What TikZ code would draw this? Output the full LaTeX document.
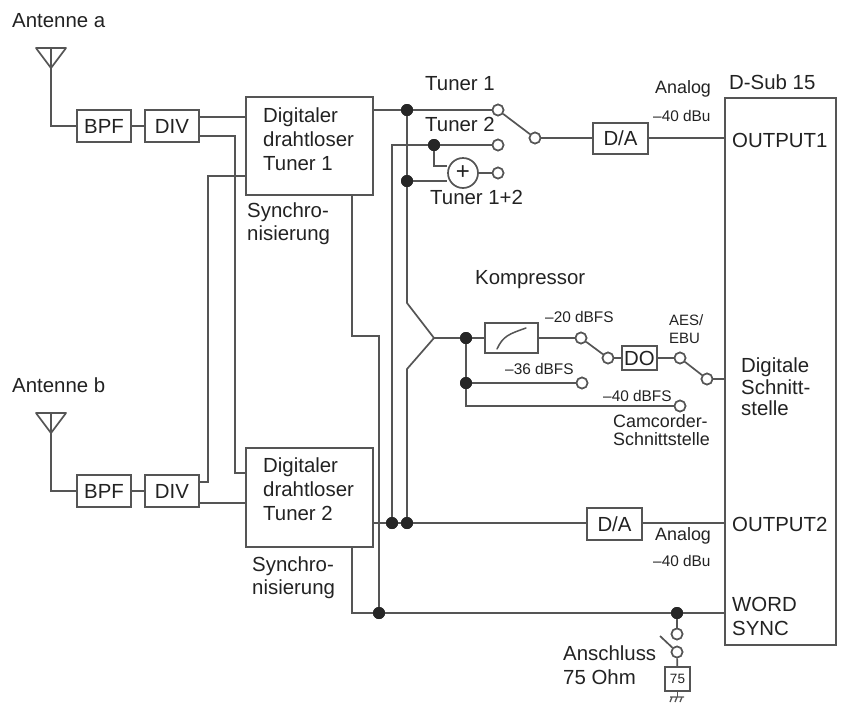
\documentclass[tikz,border=0pt]{standalone}
\usepackage{fontspec}
\setmainfont{Liberation Sans}
\definecolor{ln}{HTML}{555555}
\definecolor{tx}{HTML}{222222}
\newcommand{\fL}{\fontsize{20.4}{24}\selectfont}
\newcommand{\fA}{\fontsize{17.9}{24}\selectfont}
\newcommand{\fM}{\fontsize{15.4}{19.5}\selectfont}
\tikzset{
  x=1pt,y=-1pt,
  wire/.style={draw=ln,line width=1.7pt},
  box/.style={draw=ln,line width=1.9pt,fill=white,inner sep=0pt,text=tx,font=\fL},
  lab/.style={anchor=west,inner sep=0pt,text=tx,font=\fL,align=left},
  labm/.style={lab,font=\fM},
  dot/.style={circle,fill=black!85,draw=none,minimum size=12pt,inner sep=0pt},
  term/.style={circle,draw=ln,line width=1.6pt,fill=white,minimum size=11pt,inner sep=0pt},
}
\begin{document}
\begin{tikzpicture}
\useasboundingbox (0,0) rectangle (846,710);
% boxes
\node[box,minimum width=54pt,minimum height=32pt] (bpfa) at (104,126) {BPF};
\node[box,minimum width=54pt,minimum height=32pt] (diva) at (172,126) {DIV};
\node[box,minimum width=54pt,minimum height=32pt] (bpfb) at (104,491) {BPF};
\node[box,minimum width=54pt,minimum height=32pt] (divb) at (172,491) {DIV};
\node[box,minimum width=127pt,minimum height=98pt] (tun1) at (309.5,146) {};
\node[box,minimum width=127pt,minimum height=99pt] (tun2) at (309.5,497.5) {};
\node[box,minimum width=55pt,minimum height=31pt] (da1) at (620.5,138.5) {D/A};
\node[box,minimum width=55pt,minimum height=32pt] (da2) at (614.5,524) {D/A};
\node[box,minimum width=111pt,minimum height=547pt] (dsub) at (780.5,371.5) {};
\node[box,minimum width=53pt,minimum height=30pt] (komp) at (511.5,338) {};
\node[box,minimum width=35pt,minimum height=24pt] (do) at (639.5,358) {DO};
\node[box,minimum width=25pt,minimum height=24pt,font=\fontsize{13.5}{15}\selectfont] (r75) at (677.5,679) {75};
\node[circle,draw=ln,line width=1.7pt,fill=white,minimum size=30pt,inner sep=0pt,text=tx,font=\fontsize{24}{24}\selectfont] (plus) at (463,173) {+};
% terminals
\node[term] (t1) at (498,110) {};
\node[term] (t2) at (498,145) {};
\node[term] (t12) at (498,173) {};
\node[term] (sw1) at (535,138) {};
\node[term] (c20) at (581,338) {};
\node[term] (c20b) at (608,358) {};
\node[term] (c36) at (582,383) {};
\node[term] (do1) at (680,358) {};
\node[term] (aes) at (707,379) {};
\node[term] (c40) at (680,406) {};
\node[term] (w1) at (677,634) {};
\node[term] (w2) at (677,652) {};
% junctions
\node[dot] (j1) at (407,110) {};
\node[dot] (j2) at (434,145) {};
\node[dot] (j3) at (407,181) {};
\node[dot] (j4) at (466,338) {};
\node[dot] (j5) at (466,383) {};
\node[dot] (j6) at (392,523) {};
\node[dot] (j7) at (407,523) {};
\node[dot] (j8) at (379,613) {};
\node[dot] (j9) at (677,613) {};
% free points
\coordinate (anta) at (51,68);
\coordinate (antb) at (51,433);
\coordinate (forkt) at (407,303);
\coordinate (forka) at (434,338);
\coordinate (forkb) at (407,369);
\coordinate (s1a) at (352,195);
\coordinate (s1b) at (379,336);
\coordinate (s2a) at (352,547);
\coordinate (wleft) at (725,613);
\coordinate (gnd) at (677.5,697);
\coordinate (lev) at (660,636);
% antennas
\draw[wire,line join=round] (36,48) -- (66,48) -- (anta) -- cycle;
\draw[wire] (51,48) -- (anta);
\draw[wire,line join=round] (36,413) -- (66,413) -- (antb) -- cycle;
\draw[wire] (51,413) -- (antb);
\draw[wire] (anta) |- (bpfa.west);
\draw[wire] (antb) |- (bpfb.west);
\draw[wire] (bpfa) -- (diva);
\draw[wire] (bpfb) -- (divb);
% diversity crossing
\draw[wire] (diva.east |- 0,117) -- (tun1.west |- 0,117);
\draw[wire] (diva.east |- 0,136) -- (235,136) |- (tun2.west |- 0,473);
\draw[wire] (divb.east |- 0,482) -- (208,482) |- (tun1.west |- 0,176);
\draw[wire] (divb.east |- 0,503) -- (tun2.west |- 0,503);
% tuner 1 outputs
\draw[wire] (tun1.east |- j1) -- (j1) -- (t1);
\draw[wire] (j1) -- (j3) -- (forkt) -- (forka) -- (forkb) -- (j7);
\draw[wire] (j3) -- (j3 -| plus.west);
\draw[wire] (j2) -- (t2);
\draw[wire] (j2) |- (plus.west |- 0,166);
\draw[wire] (plus) -- (t12);
\draw[wire] (j6) -- (392,145) -- (j2);
\draw[wire] (tun2.east |- j6) -- (j6) -- (j7) -- (j7 -| da2.west);
\draw[wire] (j7 -| da2.east) -- (j7 -| dsub.west);
% output1
\draw[wire] (t1) -- (sw1);
\draw[wire] (sw1) -- (sw1 -| da1.west);
\draw[wire] (sw1 -| da1.east) -- (sw1 -| dsub.west);
% sync
\draw[wire] (s1a) |- (s1b) -- (j8);
\draw[wire] (s2a) |- (j8);
\draw[wire] (j8) -- (j9) -- (wleft);
% compressor chain
\draw[wire] (forka) -- (j4) -- (komp);
\draw[wire] (komp) -- (c20);
\draw[wire] (c20) -- (c20b);
\draw[wire] (c20b) -- (do);
\draw[wire] (do) -- (do1);
\draw[wire] (do1) -- (aes);
\draw[wire] (aes) -- (dsub.west |- aes);
\draw[wire] (j4) -- (j5) -- (c36);
\draw[wire] (j5) |- (c40);
\draw[draw=ln,line width=1.5pt,line cap=round] (497,349) .. controls (503,336) and (509,334) .. (526,328);
% word sync termination
\draw[wire] (j9) -- (w1);
\draw[wire] (lev) -- (w2);
\draw[wire] (w2) -- (r75);
\draw[wire] (r75) -- (gnd);
\draw[draw=ln,line width=1.3pt] (670,697) -- (684,697) (672,697) -- (670,702) (677,697) -- (675,702) (682,697) -- (680,702);
% redraw terminals over wires
\foreach \n in {t1,t2,t12,sw1,c20,c20b,c36,do1,aes,c40,w1,w2}{\node[term] at (\n) {};}
\foreach \n in {j1,j2,j3,j4,j5,j6,j7,j8,j9}{\node[dot] at (\n) {};}
% labels
\node[lab] (la) at (12,21) {Antenne a};
\node[lab] (lb) at (12,385) {Antenne b};
\node[lab] (l1) at (263,139) {Digitaler\\drahtloser\\Tuner 1};
\node[lab] (l2) at (263,489) {Digitaler\\drahtloser\\Tuner 2};
\node[lab,font=\fontsize{20.4}{23.5}\selectfont] (s1) at (247,223.5) {Synchro-\\nisierung};
\node[lab,font=\fontsize{20.4}{23.5}\selectfont] (s2) at (252,577.5) {Synchro-\\nisierung};
\node[lab] (tl1) at (425,84) {Tuner 1};
\node[lab] (tl2) at (425,124) {Tuner 2};
\node[lab] (tl3) at (430,197) {Tuner 1+2};
\node[lab,font=\fA] (an1) at (655,89) {Analog};
\node[labm] (db1) at (653,116) {–40 dBu};
\node[lab] (ds) at (729,82) {D-Sub 15};
\node[lab] (o1) at (732,140) {OUTPUT1};
\node[lab] (o2) at (732,524) {OUTPUT2};
\node[lab,font=\fA] (an2) at (655,536) {Analog};
\node[labm] (db2) at (653,561) {–40 dBu};
\node[lab] (wsy) at (732,616) {WORD\\SYNC};
\node[lab,font=\fontsize{20.4}{21.5}\selectfont] (dig) at (741,387) {Digitale\\Schnitt-\\stelle};
\node[lab] (kmp) at (475,280) {Kompressor};
\node[labm] (d20) at (545,317) {–20 dBFS};
\node[labm] (d36) at (505,369) {–36 dBFS};
\node[labm] (d40) at (603,396) {–40 dBFS};
\node[lab,font=\fontsize{15}{18.5}\selectfont] (ae) at (669,329) {AES/\\EBU};
\node[lab,font=\fontsize{17.9}{18}\selectfont] (cam) at (613,430) {Camcorder-\\Schnittstelle};
\node[lab] (ans) at (563,665) {Anschluss\\75 Ohm};
\end{tikzpicture}
\end{document}
